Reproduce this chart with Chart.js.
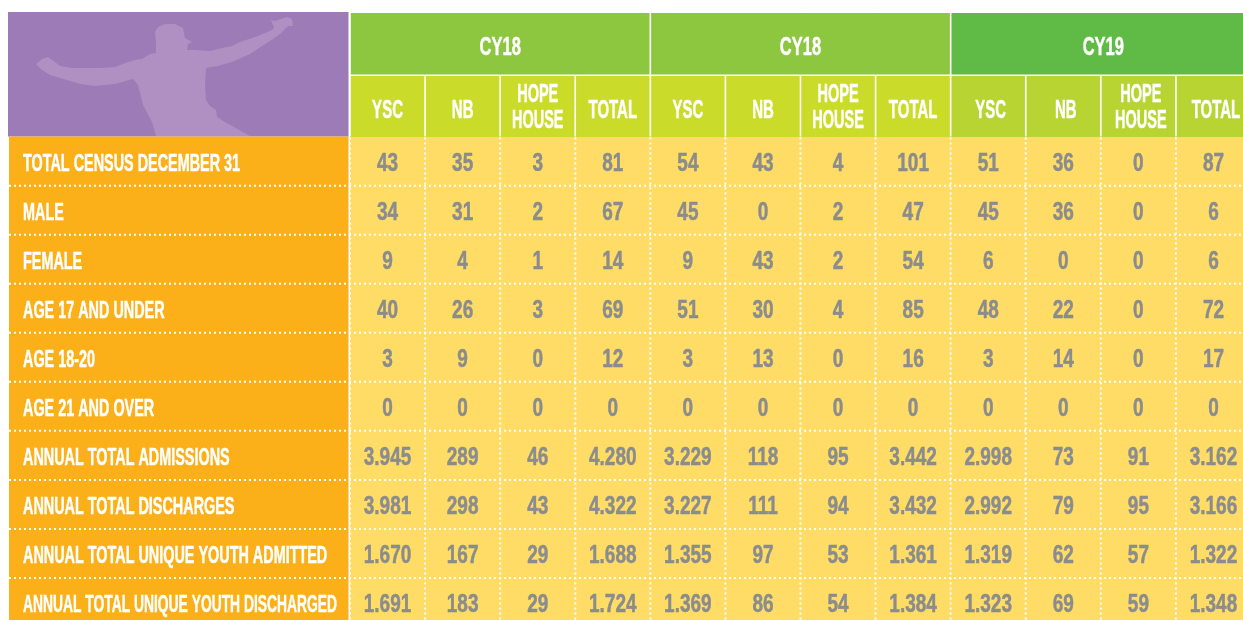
<!DOCTYPE html>
<html>
<head>
<meta charset="utf-8">
<title>Census table</title>
<script src="https://cdn.jsdelivr.net/npm/chart.js@4"></script>
<style>
  html, body { margin: 0; padding: 0; background: #fff; overflow: hidden; width: 1243px; height: 620px; }
  canvas { display: block; }
</style>
</head>
<body>
<canvas id="censusTable" width="1251" height="627"></canvas>
<script>
const yearGroups = ["CY18", "CY18", "CY19"];
const columnLabels = [
  "YSC", "NB", ["HOPE", "HOUSE"], "TOTAL",
  "YSC", "NB", ["HOPE", "HOUSE"], "TOTAL",
  "YSC", "NB", ["HOPE", "HOUSE"], "TOTAL",
];
const rowLabels = [
  "TOTAL CENSUS DECEMBER 31",
  "MALE",
  "FEMALE",
  "AGE 17 AND UNDER",
  "AGE 18-20",
  "AGE 21 AND OVER",
  "ANNUAL TOTAL ADMISSIONS",
  "ANNUAL TOTAL DISCHARGES",
  "ANNUAL TOTAL UNIQUE YOUTH ADMITTED",
  "ANNUAL TOTAL UNIQUE YOUTH DISCHARGED",
];

const totalCensus = [43, 35, 3, 81, 54, 43, 4, 101, 51, 36, 0, 87];
const male = [34, 31, 2, 67, 45, 0, 2, 47, 45, 36, 0, 6];
const female = [9, 4, 1, 14, 9, 43, 2, 54, 6, 0, 0, 6];
const age17Under = [40, 26, 3, 69, 51, 30, 4, 85, 48, 22, 0, 72];
const age18to20 = [3, 9, 0, 12, 3, 13, 0, 16, 3, 14, 0, 17];
const age21Over = [0, 0, 0, 0, 0, 0, 0, 0, 0, 0, 0, 0];
const admissions = [3945, 289, 46, 4280, 3229, 118, 95, 3442, 2998, 73, 91, 3162];
const discharges = [3981, 298, 43, 4322, 3227, 111, 94, 3432, 2992, 79, 95, 3166];
const uniqueAdmitted = [1670, 167, 29, 1688, 1355, 97, 53, 1361, 1319, 62, 57, 1322];
const uniqueDischarged = [1691, 183, 29, 1724, 1369, 86, 54, 1384, 1323, 69, 59, 1348];
const tableRows = [
  totalCensus, male, female, age17Under, age18to20,
  age21Over, admissions, discharges, uniqueAdmitted, uniqueDischarged,
];

// y axis is in "rows": body rows sit at 0..9, the two header bands above them
const BODY_TOP = -0.5;
const BODY_BOTTOM = 9.5;
const HEADER_SPLIT = -1.75;
const HEADER_TOP = -3.02;

const GREY = "#8a8c8e";
const FONT = "'Liberation Sans', Arial, sans-serif";
const LABEL_WIDTH = 314; // longest row label is squeezed to fit its column

function yearColor(col, older, latest) {
  return col < 8 ? older : latest;
}

function drawCondensed(ctx, text, x, y, size, squeeze, align, color, maxWidth) {
  ctx.save();
  ctx.font = `bold ${size}px ${FONT}`;
  ctx.fillStyle = color;
  ctx.strokeStyle = color;
  ctx.lineWidth = 0.5;
  ctx.lineJoin = "round";
  ctx.textBaseline = "alphabetic";
  ctx.textAlign = align;
  ctx.translate(x, y);
  ctx.scale(squeeze, 1);
  const limit = maxWidth ? maxWidth / squeeze : undefined;
  if (limit) {
    ctx.fillText(text, 0, 0, limit);
    ctx.strokeText(text, 0, 0, limit);
  } else {
    ctx.fillText(text, 0, 0);
    ctx.strokeText(text, 0, 0);
  }
  ctx.restore();
}

function drawPlayer(ctx, left, top) {
  const outline = [
    [28, 52], [34, 47], [40, 45], [47, 50], [52, 54], [64, 56], [92, 56], [107, 55],
    [117, 51], [127, 48], [134, 47], [142, 42], [148, 41], [148, 30], [147, 20],
    [150, 15], [157, 12], [167, 12], [175, 16], [177, 26], [184, 30], [180, 32],
    [179, 38], [187, 38], [202, 39], [214, 36], [224, 34], [232, 30], [250, 24],
    [264, 18], [266, 16], [263, 8], [267, 9], [279, 5], [284, 7], [285, 14],
    [280, 14], [272, 22], [262, 29], [242, 42], [224, 50], [210, 54], [198, 56],
    [197, 73], [198, 88], [202, 94], [208, 98], [209, 105], [217, 110], [242, 124],
    [148, 124], [144, 110], [135, 93], [130, 73], [125, 67], [107, 72], [87, 74],
    [72, 72], [52, 66], [42, 63], [34, 58],
  ];
  ctx.beginPath();
  outline.forEach(([px, py], i) => {
    if (i === 0) ctx.moveTo(left + px, top + py);
    else ctx.lineTo(left + px, top + py);
  });
  ctx.closePath();
  ctx.fillStyle = "#b08fc2";
  ctx.fill();
}

const tablePlugin = {
  id: "tablePlugin",
  beforeDatasetsDraw(chart) {
    const { ctx, scales: { y }, chartArea } = chart;
    const bodyTop = y.getPixelForValue(BODY_TOP);

    ctx.fillStyle = "#9c7bb6";
    ctx.fillRect(8, 12, 340.5, bodyTop - 12);
    drawPlayer(ctx, 8, 12);

    ctx.fillStyle = "#fbb01a";
    ctx.fillRect(9, bodyTop, 339.5, chartArea.bottom - bodyTop);
  },
  afterDatasetsDraw(chart) {
    const { ctx, scales: { x, y }, chartArea } = chart;
    const edge = (i) => x.getPixelForValue(i - 0.5);
    const headerSplit = y.getPixelForValue(HEADER_SPLIT);
    const bodyTop = y.getPixelForValue(BODY_TOP);

    // solid white rules in the header
    ctx.save();
    ctx.strokeStyle = "#fff";
    ctx.lineWidth = 1.6;
    ctx.beginPath();
    ctx.moveTo(chartArea.left, headerSplit);
    ctx.lineTo(chartArea.right, headerSplit);
    for (let i = 0; i < columnLabels.length; i++) {
      const top = i % 4 === 0 ? chartArea.top : headerSplit;
      ctx.moveTo(edge(i), top);
      ctx.lineTo(edge(i), bodyTop);
    }
    ctx.stroke();

    // dotted rules in the body
    ctx.lineWidth = 2;
    ctx.setLineDash([2, 3]);
    ctx.beginPath();
    for (let r = 1; r < rowLabels.length; r++) {
      const py = y.getPixelForValue(r - 0.5);
      ctx.moveTo(9, py);
      ctx.lineTo(chartArea.right, py);
    }
    for (let i = 0; i < columnLabels.length; i++) {
      ctx.moveTo(edge(i), bodyTop + 1);
      ctx.lineTo(edge(i), chartArea.bottom);
    }
    ctx.stroke();
    ctx.restore();

    // the header text of the last year sits a little right of its column centre
    const headerShift = (col) => (col >= 8 ? 2.5 : 0);

    // year bands
    const bandMiddle = (y.getPixelForValue(HEADER_TOP) + headerSplit) / 2;
    yearGroups.forEach((label, g) => {
      const cx = x.getPixelForValue(g * 4 + 1.5) + headerShift(g * 4);
      drawCondensed(ctx, label, cx, bandMiddle + 11, 25, 0.66, "center", "#fff");
    });

    // column headers
    const columnMiddle = (headerSplit + bodyTop) / 2;
    columnLabels.forEach((label, col) => {
      const cx = x.getPixelForValue(col) + headerShift(col);
      if (Array.isArray(label)) {
        drawCondensed(ctx, label[0], cx, columnMiddle - 4, 25, 0.58, "center", "#fff");
        drawCondensed(ctx, label[1], cx, columnMiddle + 22, 25, 0.58, "center", "#fff");
      } else {
        drawCondensed(ctx, label, cx, columnMiddle + 12, 25, 0.6, "center", "#fff");
      }
    });

    // row labels and cell values
    rowLabels.forEach((label, r) => {
      const py = y.getPixelForValue(r);
      drawCondensed(ctx, label, 23, py + 10, 24, 0.6, "left", "#fff", LABEL_WIDTH);
      tableRows[r].forEach((value, col) => {
        const text = value.toLocaleString("de-DE");
        drawCondensed(ctx, text, x.getPixelForValue(col), py + 10, 25, 0.76, "center", GREY);
      });
    });
  },
};

const span = (from, to) => columnLabels.map(() => [from, to]);

new Chart(document.getElementById("censusTable"), {
  type: "bar",
  data: {
    labels: columnLabels,
    datasets: [
      {
        label: "year band",
        data: span(HEADER_TOP, HEADER_SPLIT),
        backgroundColor: columnLabels.map((_, c) => yearColor(c, "#8dc63f", "#60bb46")),
      },
      {
        label: "column header",
        data: span(HEADER_SPLIT, BODY_TOP),
        backgroundColor: columnLabels.map((_, c) => yearColor(c, "#cbdb2a", "#b7d433")),
      },
      {
        label: "body",
        data: span(BODY_TOP, BODY_BOTTOM),
        backgroundColor: "#ffdc66",
      },
    ],
  },
  options: {
    responsive: false,
    animation: false,
    layout: { padding: { left: 8, top: 13, right: 0, bottom: 0 } },
    datasets: {
      bar: { grouped: false, barPercentage: 1, categoryPercentage: 1, borderWidth: 0 },
    },
    plugins: {
      legend: { display: false },
      tooltip: { enabled: false },
    },
    scales: {
      x: {
        display: false,
      },
      y: {
        type: "linear",
        reverse: true,
        min: HEADER_TOP,
        max: BODY_BOTTOM,
        grid: { display: false },
        border: { display: false },
        ticks: { display: false },
        afterFit(scale) {
          scale.width = 342;
        },
      },
    },
  },
  plugins: [tablePlugin],
});
</script>
</body>
</html>
